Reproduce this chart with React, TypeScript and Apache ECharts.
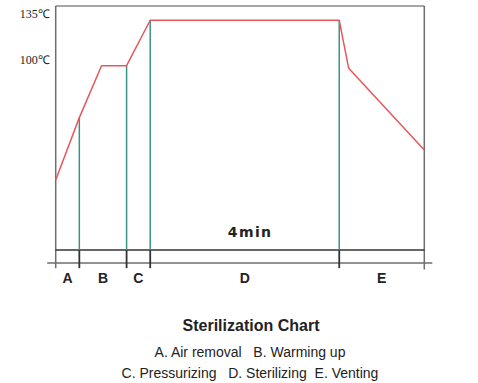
import React, { useEffect, useRef } from "react";
import * as echarts from "echarts";

// Time (min) of each phase boundary and temperature curve points
const phaseLabels = ["A", "B", "C", "D", "E"];
const phaseBounds = [0, 0.5, 1.5, 2.0, 6.0, 7.8];
const curveTime = [0, 0.5, 0.97, 1.5, 2.0, 6.0, 6.2, 7.8];
const curveTemp = [12, 60, 100, 100, 135, 135, 98, 35];
const tempLabels = [100, 135];
const holdLabel = "4min";
const titleText = "Sterilization Chart";
const legendLines = ["A. Air removal   B. Warming up", "C. Pressurizing   D. Sterilizing  E. Venting"];

const Y_MIN = -52;
const Y_MAX = 146;
const BRACKET = -42;
const TICK_END = -56;
const LABEL_Y = -63.5;
const HOLD_Y = -28;

export default function App() {
  const ref = useRef<HTMLDivElement>(null);
  useEffect(() => {
    if (!ref.current) return;
    const chart = echarts.init(ref.current, undefined, { renderer: "svg" });
    const gray = "#6e6e6e";
    const dark = "#333";
    const green = "#3a9484";
    const red = "#e8565c";
    const xMax = phaseBounds[phaseBounds.length - 1];
    const sans = "'Liberation Sans', Arial, sans-serif";

    chart.setOption({
      animation: false,
      grid: { left: 55.7, right: 53.7, top: 6, bottom: 120 },
      xAxis: { type: "value", min: 0, max: xMax, show: false },
      yAxis: {
        type: "value",
        min: Y_MIN,
        max: Y_MAX,
        axisLine: { show: false },
        axisTick: { show: false },
        splitLine: { show: false },
        axisLabel: {
          customValues: tempLabels,
          formatter: (v: number) => v + "℃",
          fontFamily: "Liberation Serif",
          fontSize: 12,
          color: "#222",
          margin: 6,
          verticalAlign: "bottom",
        },
      },
      series: [
        {
          type: "custom",
          clip: false,
          silent: true,
          data: [0],
          renderItem: (params: any, api: any) => {
            const c = (x: number, y: number) => api.coord([x, y]);
            const ln = (a: number[], b: number[], color: string, w = 1) => ({
              type: "line",
              shape: { x1: a[0], y1: a[1], x2: b[0], y2: b[1] },
              style: { stroke: color, lineWidth: w },
            });
            const children: any[] = [];
            children.push(ln(c(0, Y_MAX), c(xMax, Y_MAX), "#888", 1.5));
            children.push(ln(c(0, Y_MAX), c(0, TICK_END), gray, 1.5));
            children.push(ln(c(xMax, Y_MAX), c(xMax, TICK_END - 1), gray, 1.5));
            children.push(ln(c(-0.18, Y_MIN), c(xMax + 0.17, Y_MIN), gray, 1.3));
            children.push(ln(c(0, BRACKET), c(xMax, BRACKET), dark, 1.3));
            for (let i = 1; i < phaseBounds.length - 1; i++) {
              const t = phaseBounds[i];
              const idx = curveTime.indexOf(t);
              const top = curveTemp[idx];
              children.push(ln(c(t, BRACKET), c(t, top), green, 1.5));
              children.push(ln(c(t, BRACKET), c(t, TICK_END), dark, 1.8));
            }
            for (let i = 0; i < phaseLabels.length; i++) {
              const m = (phaseBounds[i] + phaseBounds[i + 1]) / 2;
              const p = c(m, LABEL_Y);
              children.push({
                type: "text",
                x: p[0],
                y: p[1],
                style: {
                  text: phaseLabels[i],
                  fill: "#222",
                  font: "600 14px " + sans,
                  align: "center",
                  verticalAlign: "middle",
                },
              });
            }
            const hp = c(4.1, HOLD_Y);
            children.push({
              type: "text",
              x: hp[0],
              y: hp[1],
              style: {
                text: holdLabel.split("").join("\u200A"),
                fill: "#222",
                font: "bold 14px 'DejaVu Sans', sans-serif",
                align: "center",
                verticalAlign: "middle",
              },
            });
            return { type: "group", children };
          },
        },
        {
          type: "line",
          data: curveTime.map((t, i) => [t, curveTemp[i]]),
          showSymbol: false,
          symbol: "none",
          lineStyle: { color: red, width: 1.5 },
          z: 3,
        },
      ],
      graphic: [
        {
          type: "text",
          x: 251,
          y: 325,
          style: {
            text: titleText,
            font: "bold 16px " + sans,
            fill: "#222",
            align: "center",
            verticalAlign: "middle",
          },
        },
        {
          type: "text",
          x: 250,
          y: 352,
          style: {
            text: legendLines[0],
            font: "14px " + sans,
            fill: "#222",
            align: "center",
            verticalAlign: "middle",
          },
        },
        {
          type: "text",
          x: 250,
          y: 373,
          style: {
            text: legendLines[1],
            font: "14px " + sans,
            fill: "#222",
            align: "center",
            verticalAlign: "middle",
          },
        },
      ],
    });
    return () => chart.dispose();
  }, []);
  return <div ref={ref} style={{ width: 478, height: 383, position: "absolute", left: 0, top: 0 }} />;
}
